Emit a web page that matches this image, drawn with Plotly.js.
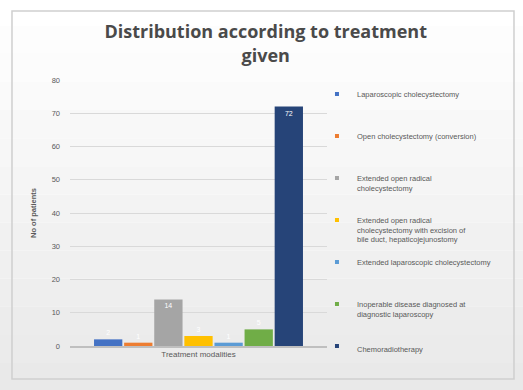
<!DOCTYPE html>
<html>
<head>
<meta charset="utf-8">
<script src="https://cdn.plot.ly/plotly-3.0.1.min.js"></script>
<style>html,body{margin:0;padding:0;background:#fff;}#chart{width:523px;height:390px;}</style>
</head>
<body>
<div id="chart"></div>
<script>
// ---- data ----
var category = ["Treatment modalities"];
var seriesNames = [
  "Laparoscopic cholecystectomy",
  "Open cholecystectomy (conversion)",
  "Extended open radical<br>cholecystectomy",
  "Extended open radical<br>cholecystectomy with excision of<br>bile duct, hepaticojejunostomy",
  "Extended laparoscopic cholecystectomy",
  "Inoperable disease diagnosed at<br>diagnostic laparoscopy",
  "Chemoradiotherapy"
];
var seriesValues = [2, 1, 14, 3, 1, 5, 72];
var yTickVals = [0, 10, 20, 30, 40, 50, 60, 70, 80];

// ---- styles ----
var colors = ["#4472C4", "#ED7D31", "#A5A5A5", "#FFC000", "#5B9BD5", "#70AD47", "#264478"];
var legendLines = 4;

var traces = seriesNames.map(function (name, i) {
  var v = seriesValues[i];
  return {
    type: "bar",
    name: name,
    x: category,
    y: [v],
    text: [String(v)],
    textposition: v > 6 ? "inside" : "outside",
    insidetextanchor: "end",
    textfont: {color: "#ffffff", size: 7, family: "Liberation Sans"},
    cliponaxis: false,
    marker: {color: colors[i]},
    showlegend: false,
    hoverinfo: "none"
  };
});
// legend entries with small square keys
seriesNames.forEach(function (name, i) {
  var lines = name.split("<br>").length;
  var pad = "";
  if (i < seriesNames.length - 1) {
    for (var k = lines; k < legendLines; k++) pad += "<br> ";
  }
  traces.push({
    type: "scatter", mode: "markers",
    name: name + pad,
    x: [null], y: [null],
    marker: {color: colors[i], symbol: "square", size: 4},
    showlegend: true, hoverinfo: "none"
  });
});

// background gradient bands
var shapes = [];
var nb = 14, y0 = -0.17, y1 = 1.31;
for (var b = 0; b < nb; b++) {
  var t = b / (nb - 1);
  var c = Math.round(255 - t * 22);
  shapes.push({
    type: "rect", xref: "paper", yref: "paper", layer: "below",
    x0: -0.28, x1: 1.77,
    y1: y1 - (y1 - y0) * b / nb, y0: y1 - (y1 - y0) * (b + 1) / nb,
    fillcolor: "rgb(" + c + "," + c + "," + c + ")", line: {width: 0}
  });
}
shapes.push({
  type: "rect", xref: "paper", yref: "paper", layer: "below",
  x0: -0.2257, x1: 1.7276, y0: -0.124, y1: 1.259,
  fillcolor: "rgba(0,0,0,0)", line: {color: "#cfcfcf", width: 1.5}
});

var layout = {
  width: 523, height: 390,
  margin: {l: 70, r: 196, t: 80, b: 44},
  paper_bgcolor: "#ffffff",
  plot_bgcolor: "rgba(0,0,0,0)",
  font: {family: "Liberation Sans", color: "#595959"},
  title: {
    text: "<b>Distribution according to treatment<br>given</b>",
    font: {size: 18, color: "#4a4a4a", family: "Open Sans"},
    x: 0.508, xref: "container", xanchor: "center",
    y: 0.902, yref: "container", yanchor: "top"
  },
  barmode: "group",
  bargap: 0.18,
  bargroupgap: 0.06,
  showlegend: true,
  legend: {
    x: 0.961, xanchor: "left", y: 0.99, yanchor: "top",
    valign: "top",
    font: {size: 7.5, color: "#595959"},
    bgcolor: "rgba(0,0,0,0)",
    itemwidth: 30,
    tracegroupgap: 0,
    maxheight: 390
  },
  xaxis: {
    type: "category",
    showline: true, linecolor: "#bfbfbf", linewidth: 1.5,
    tickfont: {size: 8, color: "#595959"},
    ticks: "", fixedrange: true
  },
  yaxis: {
    range: [0, 80],
    tickvals: yTickVals,
    gridcolor: "#d9d9d9", gridwidth: 1,
    zeroline: false, showline: false,
    ticks: "", ticklabelstandoff: 9,
    tickfont: {size: 7.5, color: "#595959"},
    title: {text: "<b>No of patients</b>", font: {size: 7.5, color: "#595959"}, standoff: 14},
    fixedrange: true
  },
  shapes: shapes
};

Plotly.newPlot("chart", traces, layout, {displayModeBar: false, staticPlot: true});
</script>
</body>
</html>
